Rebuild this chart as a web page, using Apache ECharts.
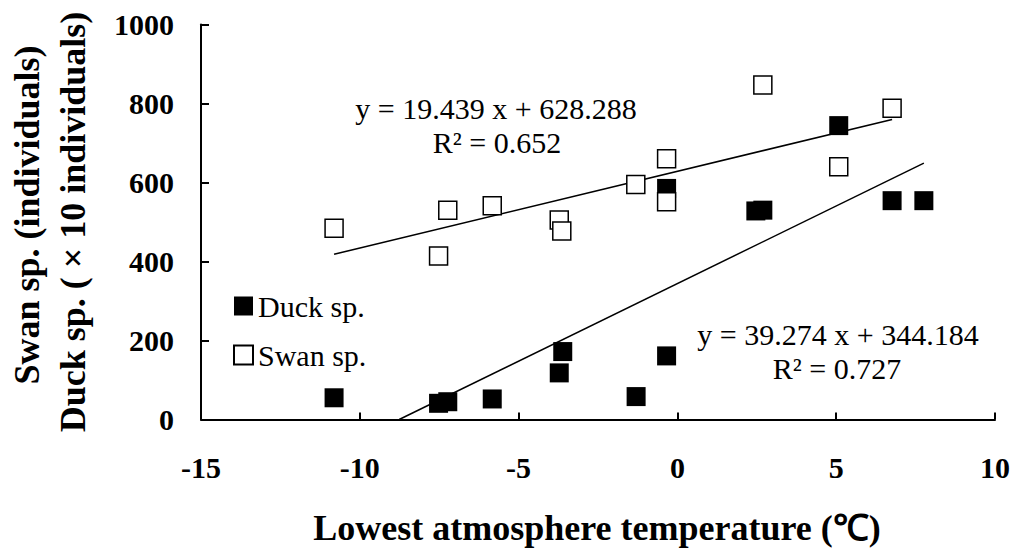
<!DOCTYPE html>
<html>
<head>
<meta charset="utf-8">
<script src="https://cdn.jsdelivr.net/npm/echarts@6/dist/echarts.min.js"></script>
<style>
html,body{margin:0;padding:0;background:#fff;}
#chart{width:1014px;height:552px;}
</style>
</head>
<body>
<div id="chart"></div>
<script>
// Data
const duckX = [-10.81, -7.52, -7.23, -5.83, -3.61, -3.72, -1.30, -0.34, -0.34, 2.47, 2.69, 5.08, 6.76, 7.76];
const duckY = [55, 41, 45, 52, 172, 118, 58, 161, 585, 528, 530, 744, 554, 554];
const swanX = [-10.81, -7.52, -7.23, -5.83, -3.72, -3.64, -1.31, -0.34, -0.34, 2.69, 5.08, 6.76];
const swanY = [484, 414, 530, 541, 505, 477, 595, 660, 551, 847, 640, 788];
// Trend line end points (from printed regressions)
const swanTrendX = [-10.81, 6.76];
const swanTrendY = [418.2, 759.7];
const duckTrendX = [-8.76, 7.76];
const duckTrendY = [0, 649.0];
const xTicks = [-15, -10, -5, 0, 5, 10];
const yTicks = [0, 200, 400, 600, 800, 1000];
const seriesNames = ['Duck sp.', 'Swan sp.'];
const eqSwan = ['y = 19.439 x + 628.288', 'R\u00B2 = 0.652'];
const eqDuck = ['y = 39.274 x + 344.184', 'R\u00B2 = 0.727'];
const xTitle = 'Lowest atmosphere temperature (\u2103)';
const yTitle1 = 'Swan sp. (individuals)';
const yTitle2 = 'Duck sp. ( \u00D7 10 individuals)';

const zip = (a, b) => a.map((v, i) => [v, b[i]]);
const serif = "'Liberation Serif', 'Times New Roman', serif";

const chart = echarts.init(document.getElementById('chart'), null, {renderer: 'svg'});
const option = {
  animation: false,
  backgroundColor: '#fff',
  grid: {left: 201, right: 19, top: 24.5, bottom: 132.5, containLabel: false},
  xAxis: {
    type: 'value', min: -15, max: 10, interval: 5,
    axisLine: {show: true, onZero: false, lineStyle: {color: '#000', width: 2}},
    axisTick: {show: true, inside: true, length: 7, lineStyle: {color: '#000', width: 2}},
    splitLine: {show: false},
    axisLabel: {margin: 33, color: '#000', fontFamily: serif, fontWeight: 'bold', fontSize: 30,
      formatter: v => xTicks.includes(v) ? String(v) : ''}
  },
  yAxis: {
    type: 'value', min: 0, max: 1000, interval: 200,
    axisLine: {show: true, onZero: false, lineStyle: {color: '#000', width: 2}},
    axisTick: {show: true, inside: true, length: 8, lineStyle: {color: '#000', width: 2}},
    splitLine: {show: false},
    axisLabel: {margin: 27, color: '#000', fontFamily: serif, fontWeight: 'bold', fontSize: 30,
      formatter: v => yTicks.includes(v) ? String(v) : ''}
  },
  legend: {
    orient: 'vertical', left: 233, top: 291, padding: 0, itemWidth: 19, itemHeight: 19, itemGap: 19,
    icon: 'rect',
    textStyle: {fontFamily: serif, fontSize: 30, color: '#000'},
    data: seriesNames
  },
  series: [
    {type: 'line', data: zip(swanTrendX, swanTrendY), symbol: 'none', silent: true,
      lineStyle: {color: '#000', width: 1.5}, z: 1},
    {type: 'line', data: zip(duckTrendX, duckTrendY), symbol: 'none', silent: true,
      lineStyle: {color: '#000', width: 1.5}, z: 1},
    {name: seriesNames[0], type: 'scatter', symbol: 'rect', symbolSize: 19,
      itemStyle: {color: '#000', borderColor: '#000', borderWidth: 0, opacity: 1},
      data: zip(duckX, duckY), z: 2},
    {name: seriesNames[1], type: 'scatter', symbol: 'rect', symbolSize: 18,
      itemStyle: {color: '#fff', borderColor: '#000', borderWidth: 1.5, opacity: 1},
      data: zip(swanX, swanY), z: 3}
  ],
  graphic: [
    {type: 'text', x: 27, y: 215, rotation: Math.PI / 2,
      style: {text: yTitle1, fontFamily: serif, fontWeight: 'bold', fontSize: 36, fill: '#000',
        textAlign: 'center', textVerticalAlign: 'middle'}},
    {type: 'text', x: 73, y: 222, rotation: Math.PI / 2,
      style: {text: yTitle2, fontFamily: serif, fontWeight: 'bold', fontSize: 36, fill: '#000',
        textAlign: 'center', textVerticalAlign: 'middle'}},
    {type: 'text', x: 597, y: 528,
      style: {text: xTitle, fontFamily: serif, fontWeight: 'bold', fontSize: 36, fill: '#000',
        textAlign: 'center', textVerticalAlign: 'middle'}},
    {type: 'text', x: 496, y: 108,
      style: {text: eqSwan[0], fontFamily: serif, fontSize: 30, fill: '#000',
        textAlign: 'center', textVerticalAlign: 'middle'}},
    {type: 'text', x: 497, y: 142,
      style: {text: eqSwan[1], fontFamily: serif, fontSize: 30, fill: '#000',
        textAlign: 'center', textVerticalAlign: 'middle'}},
    {type: 'text', x: 838, y: 334,
      style: {text: eqDuck[0], fontFamily: serif, fontSize: 30, fill: '#000',
        textAlign: 'center', textVerticalAlign: 'middle'}},
    {type: 'text', x: 837, y: 368,
      style: {text: eqDuck[1], fontFamily: serif, fontSize: 30, fill: '#000',
        textAlign: 'center', textVerticalAlign: 'middle'}}
  ]
};
chart.setOption(option);
</script>
</body>
</html>
